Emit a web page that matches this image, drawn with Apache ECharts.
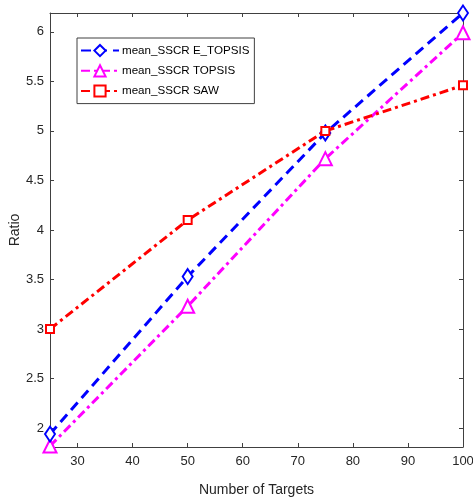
<!DOCTYPE html>
<html><head><meta charset="utf-8">
<script src="https://cdn.jsdelivr.net/npm/echarts@6/dist/echarts.min.js"></script>
<style>html,body{margin:0;padding:0;background:#fff}#c{width:473px;height:504px}</style>
</head><body><div id="c"></div>
<script>
const targets = [25, 50, 75, 100];
const eTopsis = [1.94, 3.53, 4.98, 6.19];
const topsis = [1.82, 3.23, 4.72, 5.99];
const saw = [3.0, 4.10, 5.00, 5.46];
const seriesNames = ['mean_SSCR E_TOPSIS', 'mean_SSCR TOPSIS', 'mean_SSCR SAW'];
const xTitle = 'Number of Targets';
const yTitle = 'Ratio';

const FONT = '"Liberation Sans", Arial, sans-serif';
const AX = '#404040';
const pairs = v => targets.map((t, i) => [t, v[i]]);

const chart = echarts.init(document.getElementById('c'), null, {renderer: 'canvas'});
const baseAxis = {
  axisLine: {show: true, lineStyle: {color: AX, width: 1}},
  axisTick: {show: true, inside: true, length: 4, lineStyle: {color: AX}},
  splitLine: {show: false}
};
chart.setOption({
  animation: false,
  backgroundColor: '#fff',
  grid: {left: 50, right: 10, top: 13, bottom: 57, containLabel: false, outerBoundsMode: 'none'},
  legend: {
    orient: 'vertical', left: 77, top: 38,
    backgroundColor: '#fff', borderColor: AX, borderWidth: 1,
    padding: [6, 5, 6, 3], itemGap: 7, itemWidth: 38, itemHeight: 14,
    textStyle: {fontFamily: FONT, fontSize: 11.6, color: '#000', padding: [0, 0, 0, -2]},
    data: seriesNames
  },
  xAxis: [
    Object.assign({}, baseAxis, {
      type: 'value', min: 25, max: 100, minInterval: 10, maxInterval: 10,
      name: xTitle, nameLocation: 'middle', nameGap: 36, nameMoveOverlap: false,
      nameTextStyle: {fontFamily: FONT, fontSize: 14, color: '#262626'},
      axisLabel: {fontFamily: FONT, fontSize: 13, color: '#262626', margin: 8, showMinLabel: false}
    }),
    Object.assign({}, baseAxis, {
      type: 'value', position: 'top', min: 25, max: 100, minInterval: 10, maxInterval: 10,
      axisLabel: {show: false}
    })
  ],
  yAxis: [
    Object.assign({}, baseAxis, {
      type: 'value', min: 1.81, max: 6.19, minInterval: 0.5, maxInterval: 0.5,
      name: yTitle, nameLocation: 'middle', nameGap: 28, nameMoveOverlap: false,
      nameTextStyle: {fontFamily: FONT, fontSize: 14, color: '#262626'},
      axisLabel: {fontFamily: FONT, fontSize: 13, color: '#262626', margin: 6, showMinLabel: false, showMaxLabel: false}
    }),
    Object.assign({}, baseAxis, {
      type: 'value', position: 'right', min: 1.81, max: 6.19, minInterval: 0.5, maxInterval: 0.5,
      axisLabel: {show: false}
    })
  ],
  series: [
    {
      name: seriesNames[0], type: 'line', data: pairs(eTopsis),
      symbol: 'emptyDiamond', symbolSize: [10, 15],
      lineStyle: {color: '#0000ff', width: 3, type: [10, 6]},
      itemStyle: {color: '#0000ff', borderColor: '#0000ff', borderWidth: 2},
      z: 3
    },
    {
      name: seriesNames[1], type: 'line', data: pairs(topsis),
      symbol: 'emptyTriangle', symbolSize: [13, 13],
      lineStyle: {color: '#ff00ff', width: 3, type: [9, 4, 3, 4]},
      itemStyle: {color: '#ff00ff', borderColor: '#ff00ff', borderWidth: 2},
      z: 2
    },
    {
      name: seriesNames[2], type: 'line', data: pairs(saw),
      symbol: 'emptyRect', symbolSize: 8,
      lineStyle: {color: '#ff0000', width: 3, type: [9, 4, 3, 4]},
      itemStyle: {color: '#ff0000', borderColor: '#ff0000', borderWidth: 2},
      z: 4
    }
  ]
});
</script></body></html>
